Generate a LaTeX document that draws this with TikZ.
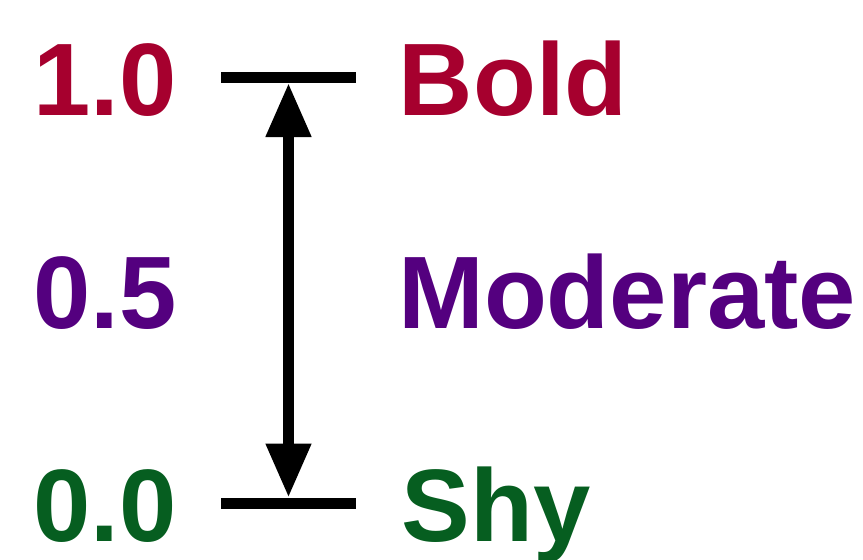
\documentclass[tikz,border=0pt]{standalone}
\usepackage{fontspec}
\setmainfont{Liberation Sans}
\usetikzlibrary{arrows.meta}
\definecolor{boldred}{RGB}{166,0,46}
\definecolor{modpurple}{RGB}{84,0,127}
\definecolor{shygreen}{RGB}{6,94,32}
\tikzset{
  lbl/.style={inner sep=0pt, font=\fontsize{103}{103}\selectfont\bfseries},
  num/.style={lbl, anchor=base east},
  word/.style={lbl, anchor=base west},
  bar/.style={line width=11pt},
  scalearrow/.style={line width=11pt, {Triangle[width=43pt,length=54pt]}-{Triangle[width=43pt,length=54pt]}}
}
\begin{document}
\begin{tikzpicture}[x=1pt,y=-1pt]
\useasboundingbox (0,0) rectangle (863,560);
\node[num, text=boldred] (n1) at (176.5,115) {1.0};
\node[num, text=modpurple] (n5) at (176.5,328) {0.5};
\node[num, text=shygreen] (n0) at (176.5,541) {0.0};
\node[word, text=boldred] (w1) at (398.5,115) {Bold};
\node[word, text=modpurple] (w5) at (398,328) {Moderate};
\node[word, text=shygreen] (w0) at (401.5,541) {Shy};
\coordinate (tl) at (221,77.5);
\coordinate (tr) at (356,77.5);
\coordinate (bl) at (221,503);
\coordinate (br) at (356,503);
\coordinate (ttip) at (288.5,83);
\coordinate (btip) at (288.5,497.5);
\draw[bar] (tl) -- (tr);
\draw[bar] (bl) -- (br);
\draw[scalearrow] (ttip) -- (btip);
\end{tikzpicture}
\end{document}
